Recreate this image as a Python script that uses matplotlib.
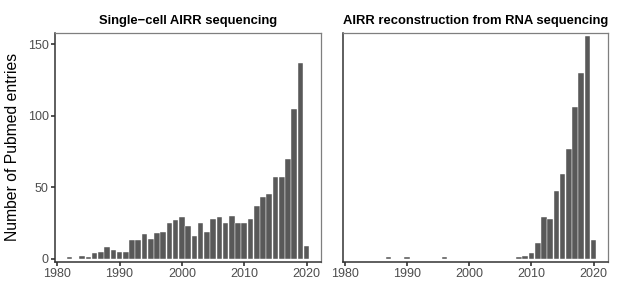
import numpy as np
import matplotlib
matplotlib.use("Agg")
import matplotlib.pyplot as plt

plt.rcParams["font.family"] = ["Liberation Sans", "DejaVu Sans"]

# publication counts per year
years_sc = list(range(1982, 2021))
counts_sc = [1, 0, 2, 1, 4, 5, 8, 6, 5, 5, 13, 13, 17, 14, 18, 19, 25, 27, 29, 23,
             16, 25, 19, 28, 29, 25, 30, 25, 25, 28, 37, 43, 45, 57, 57, 70, 105, 137, 9]

years_rna = [1987, 1990, 1996, 2008, 2009, 2010, 2011, 2012, 2013, 2014, 2015,
             2016, 2017, 2018, 2019, 2020]
counts_rna = [1, 1, 1, 1, 2, 4, 11, 29, 28, 47, 59, 77, 106, 130, 156, 13]

titles = ["Single\u2212cell AIRR sequencing", "AIRR reconstruction from RNA sequencing"]
x_ticks = [1980, 1990, 2000, 2010, 2020]
y_ticks = [0, 50, 100, 150]

W, H = 617, 308
fig = plt.figure(figsize=(W / 100, H / 100), dpi=100)

# panel boxes in pixels: left, top, right, bottom
boxes = [(55, 32.7, 321, 261.7), (342.7, 32.7, 608, 261.7)]
data = [(years_sc, counts_sc), (years_rna, counts_rna)]

for i, ((l, t, r, b), (yrs, cnt)) in enumerate(zip(boxes, data)):
    ax = fig.add_axes([l / W, 1 - b / H, (r - l) / W, (b - t) / H])
    ax.bar(yrs, cnt, width=0.9, color="#595959", edgecolor="white", linewidth=0.3)
    ax.set_xlim(1979.65, 2022.3)
    ax.set_ylim(-2.1, 158)
    ax.set_xticks(x_ticks)
    ax.set_yticks(y_ticks)
    ax.tick_params(colors="#333333", labelcolor="#4d4d4d", labelsize=9,
                   length=3, width=1.2, pad=1.5)
    for side in ["top", "right"]:
        ax.spines[side].set_color("#7f7f7f")
        ax.spines[side].set_linewidth(0.9)
    for side in ["left", "bottom"]:
        ax.spines[side].set_color("#333333")
        ax.spines[side].set_linewidth(1.1)
    if i == 1:
        ax.tick_params(axis="y", left=False, labelleft=False)
    ax.set_title(titles[i], fontsize=9.4, fontweight="bold", pad=6)

# shared y label, placed in figure pixels
fig.text(13 / W, 1 - 146.5 / H, "Number of Pubmed entries", rotation=90,
         ha="center", va="center", fontsize=11.3)

fig.savefig("out.png", dpi=100)
